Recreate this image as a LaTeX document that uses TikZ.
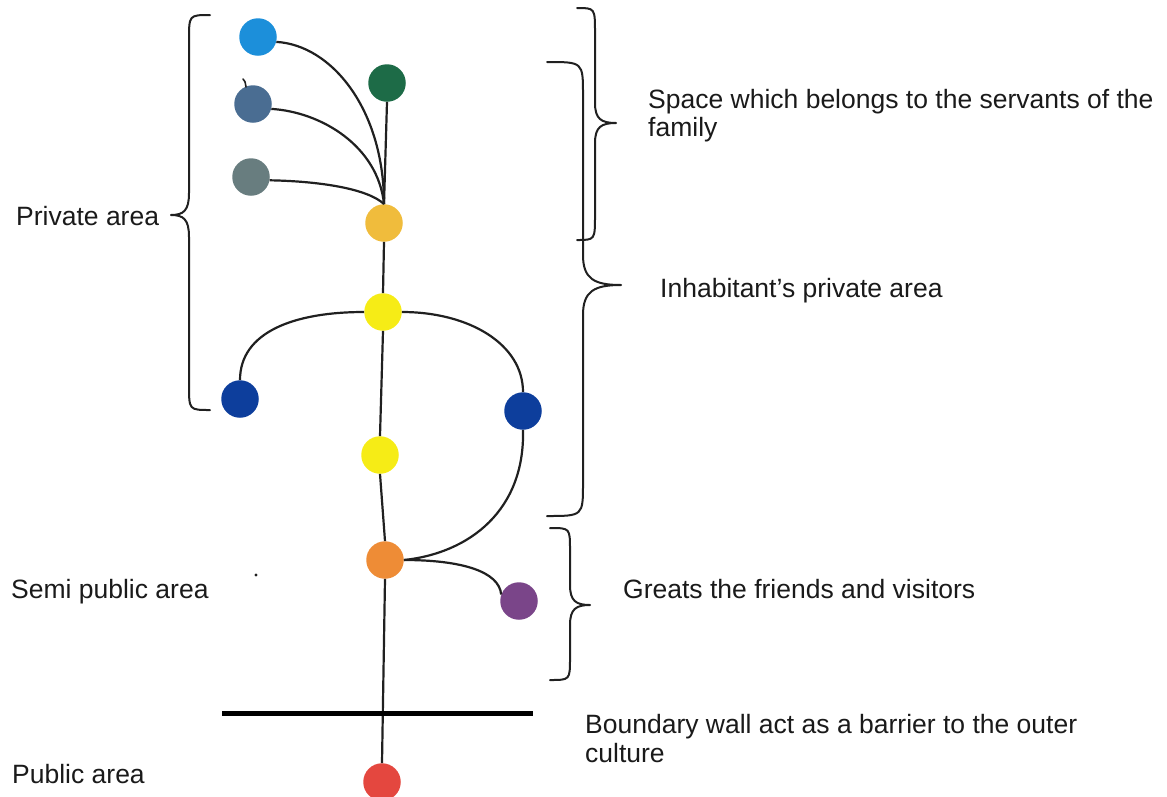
\documentclass[tikz,border=0pt]{standalone}
\usepackage{fontspec}
\setmainfont{Liberation Sans}

\definecolor{cSky}{HTML}{1C8FDA}
\definecolor{cPine}{HTML}{1D6B47}
\definecolor{cSteel}{HTML}{4A6D92}
\definecolor{cSlate}{HTML}{687D7F}
\definecolor{cGold}{HTML}{F0BC3C}
\definecolor{cSun}{HTML}{F6EC16}
\definecolor{cNavy}{HTML}{0D3E9C}
\definecolor{cAmber}{HTML}{EE8C36}
\definecolor{cPlum}{HTML}{7A4589}
\definecolor{cCoral}{HTML}{E4473F}
\definecolor{linkgray}{HTML}{202020}
\definecolor{textgray}{HTML}{1A1A1A}

% curly brace: end x, spine x, tip x, top y, tip y, bottom y, end bend, tip bend
\newcommand{\curlybrace}[8]{%
  \draw[curl] (#1,#4) .. controls (#2,#4) .. (#2,{#4+#7})
    -- (#2,{#5-#8}) .. controls (#2,{#5-0.2*#8}) and ({#2+0.3*(#3-#2)},#5) .. (#3,#5)
    .. controls ({#2+0.3*(#3-#2)},#5) and (#2,{#5+0.2*#8}) .. (#2,{#5+#8})
    -- (#2,{#6-#7}) .. controls (#2,#6) .. (#1,#6);}

\begin{document}
\begin{tikzpicture}[x=1pt,y=-1pt,
  spot/.style={circle,minimum size=37.5pt,inner sep=0pt,draw=none},
  link/.style={draw=linkgray,line width=2.2pt},
  curl/.style={draw=linkgray,line width=2pt,line cap=round,line join=round},
  wallline/.style={draw=black,line width=5pt},
  lbl/.style={anchor=base west,inner sep=0pt,font=\fontsize{26.5}{29}\selectfont,text=textgray}]

\useasboundingbox (0,0) rectangle (1167,796);
\clip (0,0) rectangle (1167,796);

% rooms
\node[spot,fill=cSky]   (sky)   at (258,37)  {};
\node[spot,fill=cPine]  (pine)  at (387,83)  {};
\node[spot,fill=cSteel] (steel) at (253,104) {};
\node[spot,fill=cSlate] (slate) at (251,177) {};
\node[spot,fill=cGold]  (gold)  at (384,223) {};
\node[spot,fill=cSun]   (sunA)  at (383,312) {};
\node[spot,fill=cNavy]  (navyL) at (240,399) {};
\node[spot,fill=cNavy]  (navyR) at (523,411) {};
\node[spot,fill=cSun]   (sunB)  at (380,455) {};
\node[spot,fill=cAmber] (amber) at (385,560) {};
\node[spot,fill=cPlum]  (plum)  at (519,601) {};
\node[spot,fill=cCoral] (coral) at (382,782) {};

% connections
\draw[link] (sky.-15) .. controls +(55,3) and +(0,-95) .. (gold.north);
\draw[link] (steel.-15) .. controls +(50,3) and +(-6,-58) .. (gold.north);
\draw[link] (slate.-10) .. controls +(52,1) and +(-16,-15) .. (gold.north);
\draw[link] (pine.south) -- (gold.north);
\draw[link] (gold.south) -- (sunA.north);
\draw[link] (sunA.west) .. controls +(-70,0) and +(0,-48) .. (navyL.north);
\draw[link] (sunA.east) .. controls +(67,0) and +(0,-48) .. (navyR.north);
\draw[link] (sunA.south) -- (sunB.north);
\draw[link] (navyR.south) .. controls +(2,80) and +(66,-7) .. (amber.east);
\draw[link] (amber.east) .. controls +(58,0) and +(-2,-23) .. (plum.160);
\draw[link] (sunB.south) -- (amber.north);
\draw[link] (amber.south) -- (coral.north);

% boundary wall
\coordinate (wallL) at (222,713);
\coordinate (wallR) at (533,713);
\draw[wallline] (wallL) -- (wallR);

% small marks
\draw[curl,line width=1.6pt] (243,79) .. controls (245,81) .. (246,87);
\fill[linkgray] (256,575) circle (1.6);

% braces
\curlybrace{210}{189}{171}{15}{215}{410}{25}{22}
\curlybrace{577}{595}{616}{8}{123}{240}{25}{20}
\curlybrace{547}{583}{621}{62}{285}{516}{33}{30}
\curlybrace{550}{570}{590}{528}{605}{680}{22}{20}

% labels
\node[lbl] (tPrivate)  at (16,225)  {Private area};
\node[lbl] (tServantA) at (648,108) {Space which belongs to the servants of the};
\node[lbl] (tServantB) at (648,136) {family};
\node[lbl] (tInhab)    at (660,297) {Inhabitant’s private area};
\node[lbl] (tSemi)     at (11,598)  {Semi public area};
\node[lbl] (tGreet)    at (623,598) {Greats the friends and visitors};
\node[lbl] (tWallA)    at (585,733) {Boundary wall act as a barrier to the outer};
\node[lbl] (tWallB)    at (585,762) {culture};
\node[lbl] (tPublic)   at (12,783)  {Public area};
\end{tikzpicture}
\end{document}
